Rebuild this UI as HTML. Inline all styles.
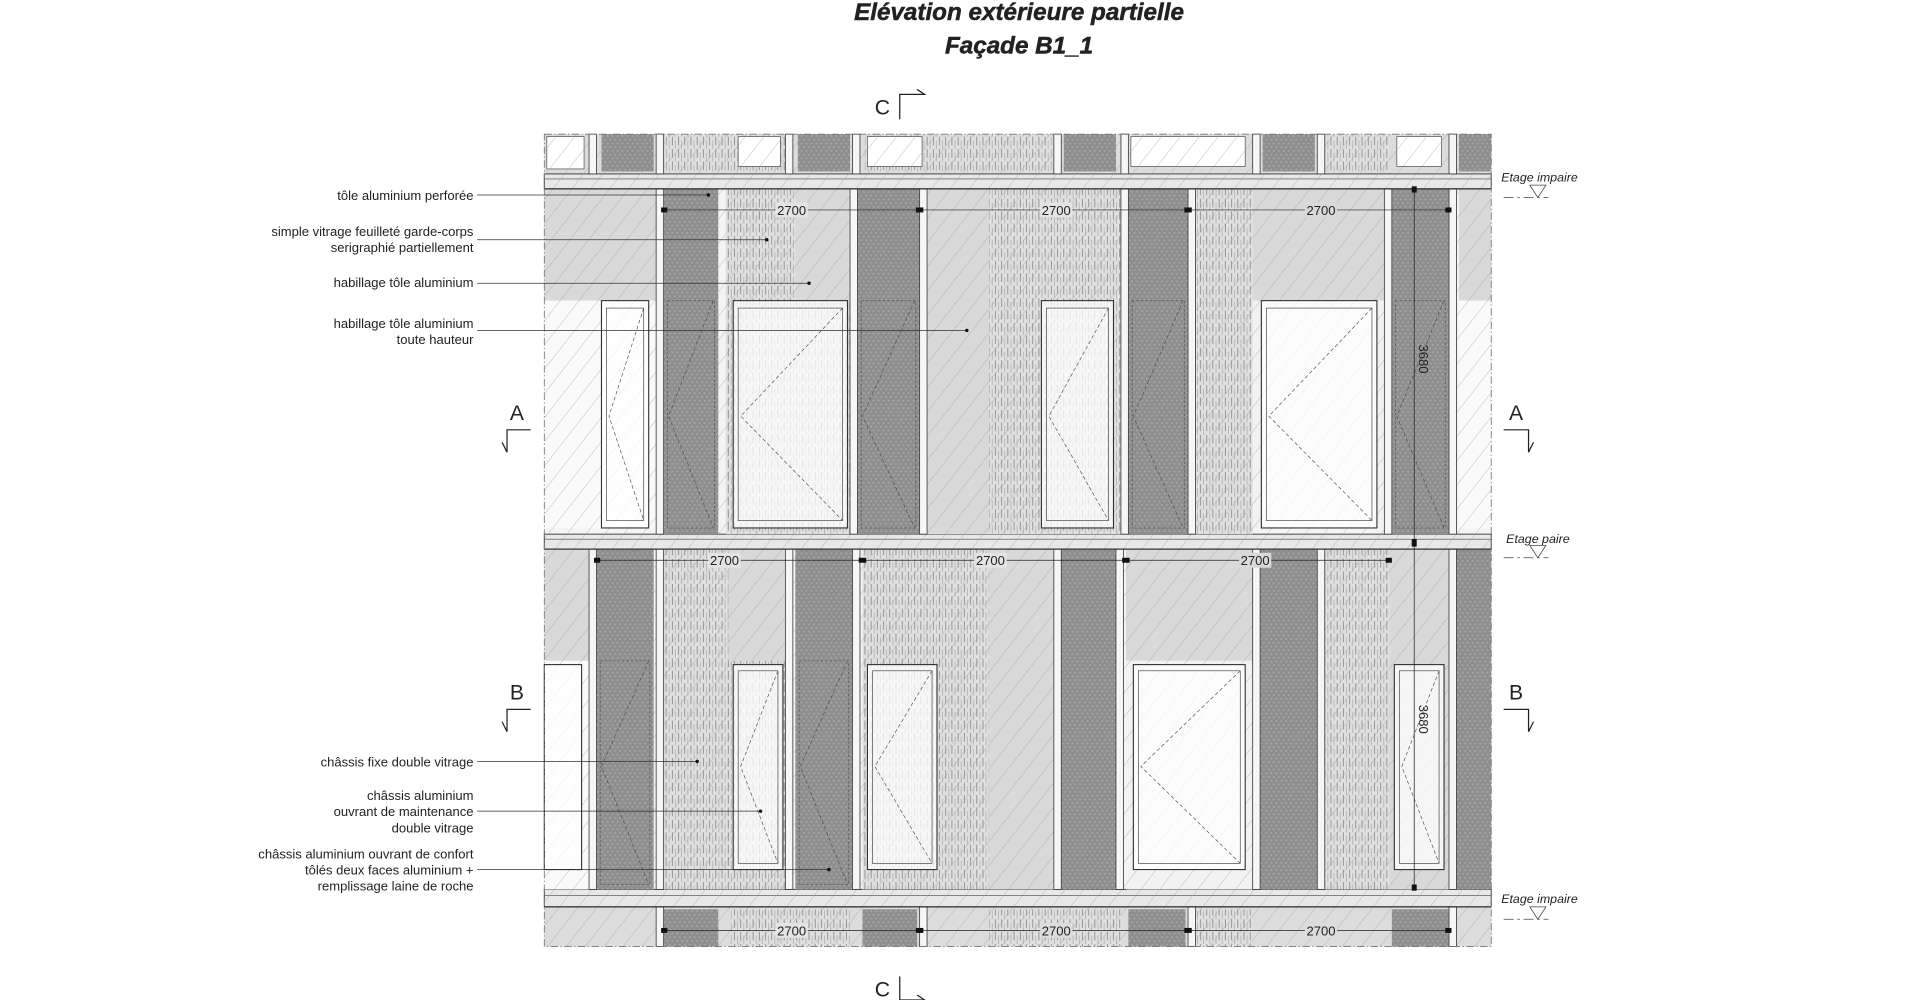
<!DOCTYPE html>
<html><head><meta charset="utf-8">
<style>
html,body{margin:0;padding:0;background:#fff;width:1920px;height:1000px;overflow:hidden}
svg{display:block}
text{font-family:"Liberation Sans",Arial,sans-serif;fill:#222}
</style></head><body>
<svg width="1920" height="1000" viewBox="0 0 1545 805" preserveAspectRatio="none" xmlns="http://www.w3.org/2000/svg">
<defs>
<pattern id="hatch" width="12" height="12" patternUnits="userSpaceOnUse" patternTransform="rotate(38)">
<line x1="0" y1="0" x2="0" y2="12" stroke="#999" stroke-width="0.5"/>
</pattern>
<pattern id="perf" width="4" height="6" patternUnits="userSpaceOnUse">
<rect width="4" height="6" fill="#8e8e8e"/>
<circle cx="1" cy="1.5" r="0.8" fill="#a8a8a8"/><circle cx="3" cy="4.5" r="0.8" fill="#a8a8a8"/>
</pattern>
<pattern id="stripe" width="5" height="10" patternUnits="userSpaceOnUse">
<rect width="5" height="10" fill="#e0e0e0"/>
<line x1="1" y1="0" x2="1" y2="7" stroke="#7a7a7a" stroke-width="0.6"/>
<line x1="3.5" y1="3" x2="3.5" y2="10" stroke="#a0a0a0" stroke-width="0.5"/>
</pattern>
</defs>

<text x="820" y="16" font-size="19.5" font-weight="bold" font-style="italic" text-anchor="middle" stroke="#222" stroke-width="0.4">Elévation extérieure partielle</text>
<text x="820" y="43" font-size="19.5" font-weight="bold" font-style="italic" text-anchor="middle" stroke="#222" stroke-width="0.4">Façade B1_1</text>

<rect x="438" y="108" width="762" height="654" fill="#f4f4f4"/>

<g>
<rect x="438" y="108" width="762" height="32" fill="#dcdcdc"/>
<rect x="440" y="110" width="30" height="26" fill="#fff" stroke="#555" stroke-width="0.6"/>
<rect x="484" y="108" width="42" height="30" fill="url(#perf)"/>
<rect x="536" y="108" width="96" height="30" fill="url(#stripe)"/>
<rect x="594" y="110" width="34" height="24" fill="#fff" stroke="#555" stroke-width="0.6"/>
<rect x="642" y="108" width="42" height="30" fill="url(#perf)"/>
<rect x="696" y="108" width="150" height="30" fill="url(#stripe)"/>
<rect x="698" y="110" width="44" height="24" fill="#fff" stroke="#555" stroke-width="0.6"/>
<rect x="856" y="108" width="42" height="30" fill="url(#perf)"/>
<rect x="910" y="110" width="92" height="24" fill="#fff" stroke="#555" stroke-width="0.6"/>
<rect x="1016" y="108" width="42" height="30" fill="url(#perf)"/>
<rect x="1068" y="108" width="50" height="30" fill="url(#stripe)"/>
<rect x="1124" y="110" width="36" height="24" fill="#fff" stroke="#555" stroke-width="0.6"/>
<rect x="1174" y="108" width="26" height="30" fill="url(#perf)"/>
</g>

<g fill="#e8e8e8" stroke="#444" stroke-width="0.8">
<rect x="438" y="140" width="762" height="12"/>
<rect x="438" y="430" width="762" height="12"/>
<rect x="438" y="716" width="762" height="14"/>
</g>
<g stroke="#444" stroke-width="0.5">
<line x1="438" y1="144" x2="1200" y2="144"/><line x1="438" y1="434" x2="1200" y2="434"/><line x1="438" y1="721" x2="1200" y2="721"/>
</g>

<g>
<rect x="438" y="152" width="90" height="90" fill="#d9d9d9"/>
<rect x="438" y="242" width="90" height="183" fill="#fafafa"/>
<rect x="534" y="152" width="44" height="278" fill="url(#perf)"/>
<rect x="584" y="152" width="100" height="278" fill="url(#stripe)"/>
<rect x="640" y="152" width="44" height="90" fill="#d9d9d9"/>
<rect x="690" y="152" width="50" height="278" fill="url(#perf)"/>
<rect x="746" y="152" width="50" height="278" fill="#d9d9d9"/>
<rect x="796" y="152" width="106" height="278" fill="url(#stripe)"/>
<rect x="908" y="152" width="48" height="278" fill="url(#perf)"/>
<rect x="962" y="152" width="46" height="278" fill="url(#stripe)"/>
<rect x="1008" y="152" width="106" height="90" fill="#d9d9d9"/>
<rect x="1008" y="242" width="106" height="183" fill="#f2f2f2"/>
<rect x="1120" y="152" width="46" height="278" fill="url(#perf)"/>
<rect x="1174" y="152" width="26" height="90" fill="#d9d9d9"/>
<rect x="1174" y="242" width="26" height="183" fill="#fafafa"/>
</g>

<g>
<rect x="438" y="442" width="36" height="90" fill="#d9d9d9"/>
<rect x="438" y="532" width="36" height="184" fill="#fafafa"/>
<rect x="480" y="442" width="46" height="274" fill="url(#perf)"/>
<rect x="534" y="442" width="98" height="274" fill="url(#stripe)"/>
<rect x="586" y="442" width="46" height="90" fill="#d9d9d9"/>
<rect x="640" y="442" width="46" height="274" fill="url(#perf)"/>
<rect x="694" y="442" width="102" height="274" fill="url(#stripe)"/>
<rect x="796" y="442" width="52" height="274" fill="#d9d9d9"/>
<rect x="854" y="442" width="44" height="274" fill="url(#perf)"/>
<rect x="906" y="442" width="102" height="90" fill="#d9d9d9"/>
<rect x="906" y="532" width="102" height="184" fill="#f2f2f2"/>
<rect x="1014" y="442" width="46" height="274" fill="url(#perf)"/>
<rect x="1066" y="442" width="52" height="274" fill="url(#stripe)"/>
<rect x="1118" y="442" width="48" height="274" fill="#d9d9d9"/>
<rect x="1172" y="442" width="28" height="274" fill="url(#perf)"/>
</g>

<g>
<rect x="438" y="730" width="762" height="32" fill="#dcdcdc"/>
<rect x="534" y="732" width="44" height="30" fill="url(#perf)"/>
<rect x="588" y="732" width="96" height="30" fill="url(#stripe)"/>
<rect x="694" y="732" width="44" height="30" fill="url(#perf)"/>
<rect x="796" y="732" width="106" height="30" fill="url(#stripe)"/>
<rect x="908" y="732" width="46" height="30" fill="url(#perf)"/>
<rect x="962" y="732" width="46" height="30" fill="url(#stripe)"/>
<rect x="1120" y="732" width="46" height="30" fill="url(#perf)"/>
</g>

<rect x="438" y="108" width="762" height="654" fill="url(#hatch)"/>

<g fill="#fff" fill-opacity="0.75" stroke="#333" stroke-width="0.9">
<rect x="484" y="242" width="38" height="183"/>
<rect x="590" y="242" width="92" height="183"/>
<rect x="838" y="242" width="58" height="183"/>
<rect x="1015" y="242" width="93" height="183"/>
<rect x="912" y="535" width="90" height="165"/>
<rect x="590" y="535" width="40" height="165"/>
<rect x="698" y="535" width="56" height="165"/>
<rect x="1122" y="535" width="40" height="165"/>
<rect x="438" y="535" width="30" height="165"/>
</g>
<g fill="none" stroke="#333" stroke-width="0.5">
<rect x="488" y="248" width="30" height="171"/>
<rect x="594" y="248" width="84" height="171"/>
<rect x="842" y="248" width="50" height="171"/>
<rect x="1019" y="248" width="85" height="171"/>
<rect x="916" y="540" width="82" height="155"/>
<rect x="594" y="540" width="32" height="155"/>
<rect x="702" y="540" width="48" height="155"/>
<rect x="1126" y="540" width="32" height="155"/>
</g>
<g fill="none" stroke="#444" stroke-width="0.5" stroke-dasharray="3,2">
<polyline points="518,248 490,335 518,419"/>
<polyline points="678,248 596,335 678,419"/>
<polyline points="892,248 844,335 892,419"/>
<polyline points="1104,248 1021,335 1104,419"/>
<polyline points="574,242 538,335 574,425"/>
<polyline points="736,242 694,335 736,425"/>
<polyline points="952,242 912,335 952,425"/>
<polyline points="1162,242 1124,335 1162,425"/>
<polyline points="998,540 918,617 998,695"/>
<polyline points="626,540 596,617 626,695"/>
<polyline points="750,540 704,617 750,695"/>
<polyline points="1158,540 1128,617 1158,695"/>
<polyline points="522,532 484,617 522,712"/>
<polyline points="682,532 644,617 682,712"/>
</g>
<g fill="none" stroke="#555" stroke-width="0.6" stroke-dasharray="2,1.5">
<rect x="537" y="242" width="38" height="183"/><rect x="693" y="242" width="44" height="183"/><rect x="911" y="242" width="42" height="183"/><rect x="1123" y="242" width="40" height="183"/>
<rect x="483" y="532" width="40" height="180"/><rect x="643" y="532" width="40" height="180"/>
</g>

<g fill="#f6f6f6" stroke="#444" stroke-width="0.7">
<rect x="528" y="152" width="6" height="278"/><rect x="684" y="152" width="6" height="278"/><rect x="740" y="152" width="6" height="278"/><rect x="902" y="152" width="6" height="278"/><rect x="956" y="152" width="6" height="278"/><rect x="1114" y="152" width="6" height="278"/><rect x="1166" y="152" width="6" height="278"/>
<rect x="474" y="442" width="6" height="274"/><rect x="528" y="442" width="6" height="274"/><rect x="632" y="442" width="6" height="274"/><rect x="686" y="442" width="6" height="274"/><rect x="848" y="442" width="6" height="274"/><rect x="898" y="442" width="6" height="274"/><rect x="1008" y="442" width="6" height="274"/><rect x="1060" y="442" width="6" height="274"/><rect x="1166" y="442" width="6" height="274"/>
<rect x="474" y="108" width="6" height="32"/><rect x="528" y="108" width="6" height="32"/><rect x="632" y="108" width="6" height="32"/><rect x="686" y="108" width="6" height="32"/><rect x="848" y="108" width="6" height="32"/><rect x="902" y="108" width="6" height="32"/><rect x="1008" y="108" width="6" height="32"/><rect x="1060" y="108" width="6" height="32"/><rect x="1166" y="108" width="6" height="32"/>
<rect x="528" y="730" width="6" height="32"/><rect x="740" y="730" width="6" height="32"/><rect x="956" y="730" width="6" height="32"/><rect x="1166" y="730" width="6" height="32"/>
</g>
<g stroke="#333" stroke-width="1"><line x1="438" y1="152" x2="1200" y2="152"/><line x1="438" y1="442" x2="1200" y2="442"/><line x1="438" y1="730" x2="1200" y2="730"/></g>
<rect x="438" y="108" width="762" height="654" fill="none" stroke="#777" stroke-width="0.7" stroke-dasharray="6,2,1,2"/>

<g stroke="#222" stroke-width="0.6">
<line x1="532" y1="169" x2="1168" y2="169"/>
<line x1="478" y1="451" x2="1120" y2="451"/>
<line x1="532" y1="749" x2="1168" y2="749"/>
<line x1="1138" y1="152" x2="1138" y2="716"/>
</g>
<g fill="#111">
<rect x="532" y="167" width="5" height="4"/><rect x="737" y="167" width="6" height="4"/><rect x="953" y="167" width="6" height="4"/><rect x="1163" y="167" width="5" height="4"/>
<rect x="478" y="449" width="5" height="4"/><rect x="691" y="449" width="6" height="4"/><rect x="903" y="449" width="6" height="4"/><rect x="1115" y="449" width="5" height="4"/>
<rect x="532" y="747" width="5" height="4"/><rect x="737" y="747" width="6" height="4"/><rect x="953" y="747" width="6" height="4"/><rect x="1163" y="747" width="5" height="4"/>
<rect x="1136" y="150" width="4" height="5"/><rect x="1136" y="434" width="4" height="6"/><rect x="1136" y="712" width="4" height="5"/>
</g>
<g font-size="10.5" text-anchor="middle">
<rect x="624" y="163" width="26" height="12" fill="#e4e4e4"/><text x="637" y="173">2700</text>
<rect x="837" y="163" width="26" height="12" fill="#e4e4e4"/><text x="850" y="173">2700</text>
<rect x="1050" y="163" width="26" height="12" fill="#d9d9d9"/><text x="1063" y="173">2700</text>
<rect x="570" y="445" width="26" height="12" fill="#e4e4e4"/><text x="583" y="455">2700</text>
<rect x="784" y="445" width="26" height="12" fill="#e4e4e4"/><text x="797" y="455">2700</text>
<rect x="997" y="445" width="26" height="12" fill="#d9d9d9"/><text x="1010" y="455">2700</text>
<rect x="624" y="743" width="26" height="12" fill="#e4e4e4"/><text x="637" y="753">2700</text>
<rect x="837" y="743" width="26" height="12" fill="#dcdcdc"/><text x="850" y="753">2700</text>
<rect x="1050" y="743" width="26" height="12" fill="#dcdcdc"/><text x="1063" y="753">2700</text>
<text transform="translate(1142,289) rotate(90)">3680</text>
<text transform="translate(1142,579) rotate(90)">3680</text>
</g>

<g font-size="10.5" text-anchor="end">
<text x="381" y="161">tôle aluminium perforée</text>
<text x="381" y="190">simple vitrage feuilleté garde-corps</text>
<text x="381" y="203">serigraphié partiellement</text>
<text x="381" y="231">habillage tôle aluminium</text>
<text x="381" y="264">habillage tôle aluminium</text>
<text x="381" y="277">toute hauteur</text>
<text x="381" y="617">châssis fixe double vitrage</text>
<text x="381" y="644">châssis aluminium</text>
<text x="381" y="657">ouvrant de maintenance</text>
<text x="381" y="670">double vitrage</text>
<text x="381" y="691">châssis aluminium ouvrant de confort</text>
<text x="381" y="704">tôlés deux faces aluminium +</text>
<text x="381" y="717">remplissage laine de roche</text>
</g>
<g stroke="#333" stroke-width="0.6">
<line x1="384" y1="157" x2="570" y2="157"/>
<line x1="384" y1="193" x2="617" y2="193"/>
<line x1="384" y1="228" x2="651" y2="228"/>
<line x1="384" y1="266" x2="778" y2="266"/>
<line x1="384" y1="613" x2="561" y2="613"/>
<line x1="384" y1="653" x2="612" y2="653"/>
<line x1="384" y1="700" x2="667" y2="700"/>
</g>
<g fill="#111">
<circle cx="570" cy="157" r="1.4"/><circle cx="617" cy="193" r="1.4"/><circle cx="651" cy="228" r="1.4"/><circle cx="778" cy="266" r="1.4"/><circle cx="561" cy="613" r="1.4"/><circle cx="612" cy="653" r="1.4"/><circle cx="667" cy="700" r="1.4"/>
</g>

<g font-size="17" text-anchor="middle">
<text x="416" y="338">A</text><text x="1220" y="338">A</text>
<text x="416" y="563">B</text><text x="1220" y="563">B</text>
<text x="710" y="92">C</text><text x="710" y="802">C</text>
</g>
<g fill="none" stroke="#222" stroke-width="1">
<polyline points="427,346 408,346 408,364 404,356"/>
<polyline points="1210,346 1230,346 1230,364 1234,356"/>
<polyline points="427,571 408,571 408,589 404,581"/>
<polyline points="1210,571 1230,571 1230,589 1234,581"/>
<polyline points="724,96 724,76 744,76 738,72"/>
<polyline points="724,786 724,805 744,805 738,801"/>
</g>

<g font-size="10" font-style="italic">
<text x="1208" y="146">Etage impaire</text>
<text x="1212" y="437">Etage paire</text>
<text x="1208" y="727">Etage impaire</text>
</g>
<g fill="none" stroke="#444" stroke-width="0.6">
<line x1="1210" y1="159" x2="1246" y2="159" stroke-dasharray="8,3,2,3"/>
<polygon points="1231,149 1244,149 1237.5,159"/>
<line x1="1210" y1="449" x2="1246" y2="449" stroke-dasharray="8,3,2,3"/>
<polygon points="1231,439 1244,439 1237.5,449"/>
<line x1="1210" y1="740" x2="1246" y2="740" stroke-dasharray="8,3,2,3"/>
<polygon points="1231,730 1244,730 1237.5,740"/>
</g>
</svg>
</body></html>
